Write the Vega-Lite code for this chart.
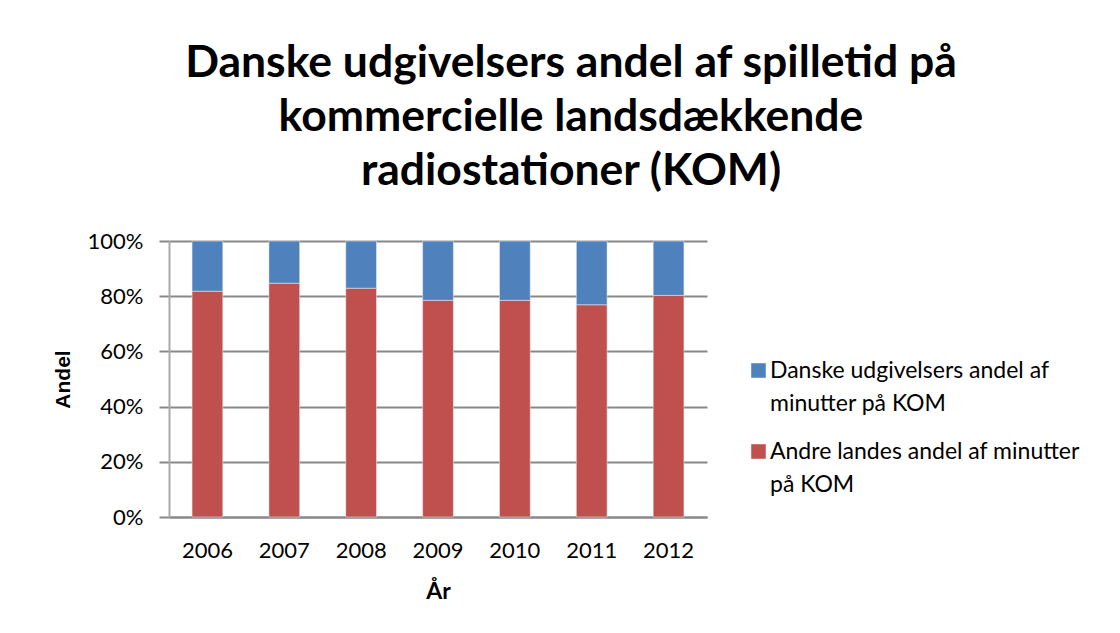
{
  "$schema": "https://vega.github.io/schema/vega-lite/v6.json",
  "width": 538,
  "height": 276,
  "autosize": "none",
  "padding": {"left": 169, "top": 241, "right": 413, "bottom": 116},
  "background": "white",
  "title": {
    "text": ["Danske udgivelsers andel af spilletid på", "kommercielle landsdækkende", "radiostationer (KOM)"],
    "font": "Lato",
    "fontSize": 44.5,
    "fontWeight": "bold",
    "color": "#000000",
    "lineHeight": 54,
    "anchor": "middle",
    "frame": "group",
    "dx": 133,
    "offset": 36
  },
  "data": {
    "values": [
      {"year": "2006", "series": "Andre landes andel af minutter på KOM", "value": 81.8},
      {"year": "2006", "series": "Danske udgivelsers andel af minutter på KOM", "value": 18.2},
      {"year": "2007", "series": "Andre landes andel af minutter på KOM", "value": 84.7},
      {"year": "2007", "series": "Danske udgivelsers andel af minutter på KOM", "value": 15.3},
      {"year": "2008", "series": "Andre landes andel af minutter på KOM", "value": 82.9},
      {"year": "2008", "series": "Danske udgivelsers andel af minutter på KOM", "value": 17.1},
      {"year": "2009", "series": "Andre landes andel af minutter på KOM", "value": 78.5},
      {"year": "2009", "series": "Danske udgivelsers andel af minutter på KOM", "value": 21.5},
      {"year": "2010", "series": "Andre landes andel af minutter på KOM", "value": 78.5},
      {"year": "2010", "series": "Danske udgivelsers andel af minutter på KOM", "value": 21.5},
      {"year": "2011", "series": "Andre landes andel af minutter på KOM", "value": 76.9},
      {"year": "2011", "series": "Danske udgivelsers andel af minutter på KOM", "value": 23.1},
      {"year": "2012", "series": "Andre landes andel af minutter på KOM", "value": 80.3},
      {"year": "2012", "series": "Danske udgivelsers andel af minutter på KOM", "value": 19.7}
    ]
  },
  "mark": {"type": "bar", "width": {"band": 0.4}},
  "encoding": {
    "x": {
      "field": "year",
      "type": "nominal",
      "title": "År",
      "scale": {"paddingInner": 0, "paddingOuter": 0},
      "axis": {
        "labelAngle": 0,
        "ticks": false,
        "domainColor": "#888888",
        "domainWidth": 2,
        "labelFont": "Lato",
        "labelFontSize": 22,
        "labelColor": "#000000",
        "labelPadding": 23,
        "titleFont": "Lato",
        "titleFontSize": 23,
        "titleFontWeight": "bold",
        "titleColor": "#000000",
        "titlePadding": 19
      }
    },
    "y": {
      "field": "value",
      "type": "quantitative",
      "stack": "normalize",
      "title": "Andel",
      "scale": {"domain": [0, 1]},
      "axis": {
        "format": "%",
        "values": [0, 0.2, 0.4, 0.6, 0.8, 1],
        "tickSize": 10,
        "tickColor": "#888888",
        "tickWidth": 2,
        "labelPadding": 16,
        "labelFont": "Lato",
        "labelFontSize": 22,
        "labelColor": "#000000",
        "grid": true,
        "gridColor": "#888888",
        "gridWidth": 2,
        "domainColor": "#aaaaaa",
        "domainWidth": 2,
        "titleFont": "Liberation Sans",
        "titleFontSize": 21,
        "titleFontWeight": "bold",
        "titleColor": "#000000",
        "titlePadding": 14
      }
    },
    "color": {
      "field": "series",
      "type": "nominal",
      "scale": {
        "domain": ["Danske udgivelsers andel af minutter på KOM", "Andre landes andel af minutter på KOM"],
        "range": ["#4F81BD", "#C0504D"]
      },
      "legend": {
        "title": null,
        "orient": "none",
        "legendX": 578,
        "legendY": 118,
        "padding": 0,
        "symbolType": "square",
        "symbolSize": 225,
        "symbolStrokeWidth": 0,
        "labelFont": "Lato",
        "labelFontSize": 23,
        "labelColor": "#000000",
        "labelOffset": 0,
        "labelLimit": 400,
        "labelBaseline": "middle",
        "rowPadding": 24,
        "labelExpr": "datum.label == 'Danske udgivelsers andel af minutter på KOM' ? ['Danske udgivelsers andel af', 'minutter på KOM'] : ['Andre landes andel af minutter', 'på KOM']"
      }
    },
    "order": {"field": "series", "sort": "ascending"}
  },
  "config": {
    "view": {"stroke": null},
    "bar": {"stroke": "#f0f0f0", "strokeWidth": 0.5},
    "style": {"guide-label": {"lineHeight": 33}}
  }
}
